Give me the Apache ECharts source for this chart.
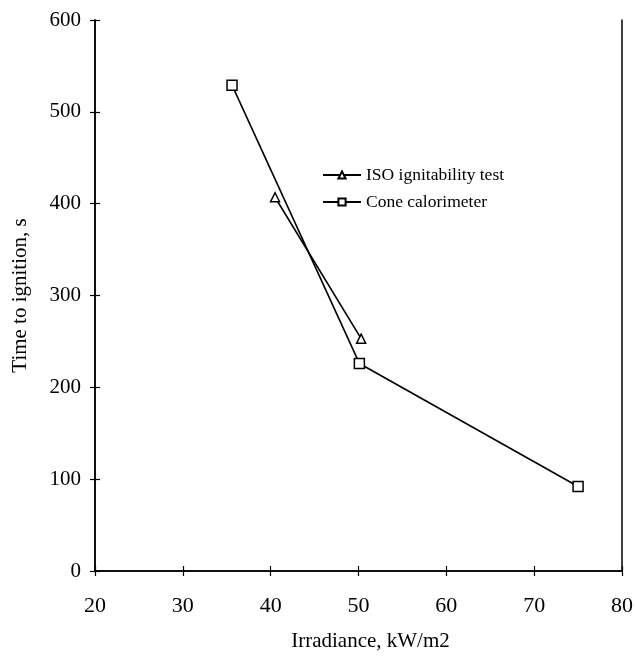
<!DOCTYPE html>
<html><head><meta charset="utf-8">
<script src="https://cdn.jsdelivr.net/npm/echarts@6/dist/echarts.min.js"></script>
<style>html,body{margin:0;padding:0;background:#fff}#c{width:636px;height:662px}</style>
</head><body><div id="c"></div>
<script>
const isoX = [40.5, 50.3];
const isoY = [407, 253];
const coneX = [35.6, 50.1, 75.0];
const coneY = [529, 226, 92];
const xTicks = [20, 30, 40, 50, 60, 70, 80];
const yTicks = [0, 100, 200, 300, 400, 500, 600];

const font = 'Liberation Serif, Times New Roman, serif';
const chart = echarts.init(document.getElementById('c'), null, {renderer: 'canvas'});
const axLine = {show: true, lineStyle: {color: '#000', width: 1.5}};
const baseX = {type: 'value', min: xTicks[0], max: xTicks[xTicks.length-1], interval: 10, splitLine: {show: false}, axisLine: axLine};
const baseY = {type: 'value', min: yTicks[0], max: yTicks[yTicks.length-1], interval: 100, splitLine: {show: false}, axisLine: axLine};
chart.setOption({
  animation: false,
  backgroundColor: '#fff',
  grid: {left: 95, right: 14, top: 20, bottom: 91},
  legend: {
    orient: 'vertical', left: 317, top: 161, itemGap: 9, itemWidth: 38, itemHeight: 9,
    padding: 5,
    textStyle: {fontFamily: font, fontSize: 17.5, color: '#000'},
    data: ['ISO ignitability test', 'Cone calorimeter']
  },
  xAxis: [
    Object.assign({}, baseX, {
      name: 'Irradiance, kW/m2', nameLocation: 'middle', nameGap: 60,
      nameTextStyle: {fontFamily: font, fontSize: 21, color: '#000', padding: [0, 0, 0, 24]},
      axisTick: {show: true, inside: false, length: 5, lineStyle: {color: '#000', width: 1.2}},
      axisLabel: {margin: 24, fontFamily: font, fontSize: 22, color: '#000'}
    }),
    Object.assign({}, baseX, {
      position: 'bottom', axisLabel: {show: false},
      axisTick: {show: true, inside: true, length: 5, lineStyle: {color: '#000', width: 1.2}}
    })
  ],
  yAxis: [
    Object.assign({}, baseY, {
      position: 'left',
      name: 'Time to ignition, s', nameLocation: 'middle', nameGap: 64,
      nameTextStyle: {fontFamily: font, fontSize: 21, color: '#000'},
      axisTick: {show: true, inside: false, length: 5, lineStyle: {color: '#000', width: 1.2}},
      axisLabel: {margin: 14, fontFamily: font, fontSize: 21, color: '#000'}
    }),
    Object.assign({}, baseY, {
      position: 'left', axisLabel: {show: false},
      axisTick: {show: true, inside: true, length: 5, lineStyle: {color: '#000', width: 1.2}}
    }),
    Object.assign({}, baseY, {
      position: 'right', axisLabel: {show: false}, axisTick: {show: false}
    })
  ],
  series: [
    {
      name: 'ISO ignitability test', type: 'line',
      data: isoX.map((x, i) => [x, isoY[i]]),
      symbol: 'triangle', symbolSize: 9, showAllSymbol: true,
      lineStyle: {color: '#000', width: 1.6},
      itemStyle: {color: '#fff', borderColor: '#000', borderWidth: 1.5}
    },
    {
      name: 'Cone calorimeter', type: 'line',
      data: coneX.map((x, i) => [x, coneY[i]]),
      symbol: 'rect', symbolSize: 10, showAllSymbol: true,
      lineStyle: {color: '#000', width: 1.6},
      itemStyle: {color: '#fff', borderColor: '#000', borderWidth: 1.5}
    }
  ]
});
</script></body></html>
